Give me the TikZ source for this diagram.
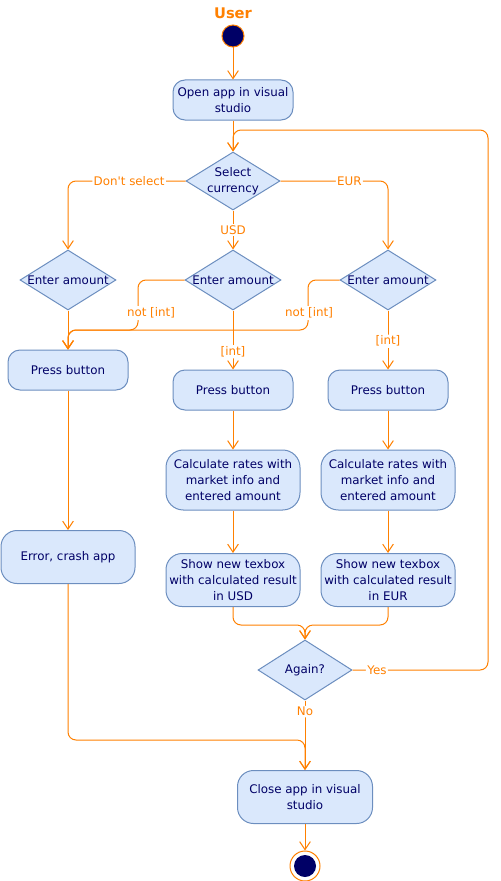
\documentclass[tikz,border=0pt]{standalone}
\usepackage{fontspec}
\setmainfont{DejaVu Sans}
\usetikzlibrary{shapes.geometric,arrows.meta}
\definecolor{ora}{HTML}{FF8000}
\definecolor{boxfill}{HTML}{DAE8FC}
\definecolor{boxline}{HTML}{6C8EBF}
\definecolor{navy}{HTML}{000066}
\begin{document}
\begin{tikzpicture}[x=0.75pt,y=-0.75pt,
  font=\fontsize{8.9pt}{12pt}\selectfont,
  act/.style={draw=boxline, fill=boxfill, text=navy, align=center, inner sep=0pt, line width=0.75pt},
  dec/.style={diamond, draw=boxline, fill=boxfill, text=navy, inner sep=0pt, line width=0.75pt},
  flow/.style={draw=ora, line width=0.75pt, rounded corners=6pt, -{Straight Barb[length=6pt,width=8pt]}},
  lbl/.style={text=ora, fill=white, inner sep=1pt}]
\useasboundingbox (0,0) rectangle (500,881);
% title and start
\node[font=\bfseries\fontsize{11pt}{13pt}\selectfont, text=ora] (user) at (233,13) {User};
\node[circle, draw=ora, fill=navy, minimum size=16.5pt, inner sep=0pt, line width=0.75pt] (start) at (233,36) {};
% activities
\node[act, rounded corners=9pt, minimum width=90pt, minimum height=30pt] (open) at (233,100) {Open app in visual\\studio};
\node[dec, minimum width=70.5pt, minimum height=43.5pt] (sel) at (233,181) {\makebox[0pt]{\begin{tabular}{@{}c@{}}Select\\currency\end{tabular}}};
\node[dec, minimum width=72pt, minimum height=45pt] (e1) at (68,280) {\makebox[0pt]{Enter amount}};
\node[dec, minimum width=72pt, minimum height=45pt] (e2) at (233,280) {\makebox[0pt]{Enter amount}};
\node[dec, minimum width=72pt, minimum height=45pt] (e3) at (388,280) {\makebox[0pt]{Enter amount}};
\node[act, rounded corners=9pt, minimum width=90pt, minimum height=30pt] (p1) at (68,370) {Press button};
\node[act, rounded corners=9pt, minimum width=90pt, minimum height=30pt] (p2) at (233,390) {Press button};
\node[act, rounded corners=9pt, minimum width=90pt, minimum height=30pt] (p3) at (388,390) {Press button};
\node[act, rounded corners=13pt, minimum width=100.5pt, minimum height=45pt] (c2) at (233,480) {Calculate rates with\\market info and\\entered amount};
\node[act, rounded corners=13pt, minimum width=100.5pt, minimum height=45pt] (c3) at (388,480) {Calculate rates with\\market info and\\entered amount};
\node[act, rounded corners=12pt, minimum width=100.5pt, minimum height=39.75pt] (s2) at (233,580) {Show new texbox\\with calculated result\\in USD};
\node[act, rounded corners=12pt, minimum width=100.5pt, minimum height=39.75pt] (s3) at (388,580) {Show new texbox\\with calculated result\\in EUR};
\node[act, rounded corners=12pt, minimum width=100.5pt, minimum height=39.75pt] (err) at (68,557) {Error, crash app};
\node[dec, minimum width=70.5pt, minimum height=45pt] (ag) at (305,670) {\makebox[0pt]{Again?}};
\node[act, rounded corners=12pt, minimum width=101.25pt, minimum height=39.75pt] (close) at (305,797) {Close app in visual\\studio};
\node[circle, draw=ora, fill=white, minimum size=22.5pt, inner sep=0pt, line width=0.75pt] (endo) at (305,866) {};
\node[circle, fill=navy, minimum size=16.5pt, inner sep=0pt] (endi) at (305,866) {};
% connectors
\coordinate (n2) at (138,330);
\coordinate (n3) at (308,330);
\coordinate (mg) at (305,625);
\coordinate (yc) at (488,130);
\coordinate (ej) at (305,740);
\draw[flow] (start) -- (open);
\draw[flow] (open) -- (sel);
\draw[flow] (sel.west) -| node[lbl,pos=0.24]{Don\textquotesingle t select} (e1.north);
\draw[flow] (sel.east) -| node[lbl,pos=0.32]{EUR} (e3.north);
\draw[flow] (sel) -- node[lbl]{USD} (e2);
\draw[flow] (e1) -- (p1);
\draw[flow] (e2.west) -| (n2) -| (p1.north);
\draw[flow] (e3.west) -| (n3) -| (p1.north);
\node[lbl] (l1) at (151,313) {not [int]};
\node[lbl] (l2) at (309,313) {not [int]};
\draw[flow] (e2) -- node[lbl,pos=0.7]{[int]} (p2);
\draw[flow] (e3) -- node[lbl,pos=0.52]{[int]} (p3);
\draw[flow] (p2) -- (c2);
\draw[flow] (c2) -- (s2);
\draw[flow] (p3) -- (c3);
\draw[flow] (c3) -- (s3);
\draw[flow] (p1) -- (err);
\draw[flow] (s2.south) |- (mg) -- (ag.north);
\draw[flow] (s3.south) |- (mg) -- (ag.north);
\draw[flow] (ag.east) -| node[lbl,pos=0.09]{Yes} (yc) -| (sel.north);
\draw[flow] (ag) -- node[lbl,pos=0.16]{No} (close);
\draw[flow] (err.south) |- (ej) -- (close.north);
\draw[flow] (close) -- (endo);
\end{tikzpicture}
\end{document}
